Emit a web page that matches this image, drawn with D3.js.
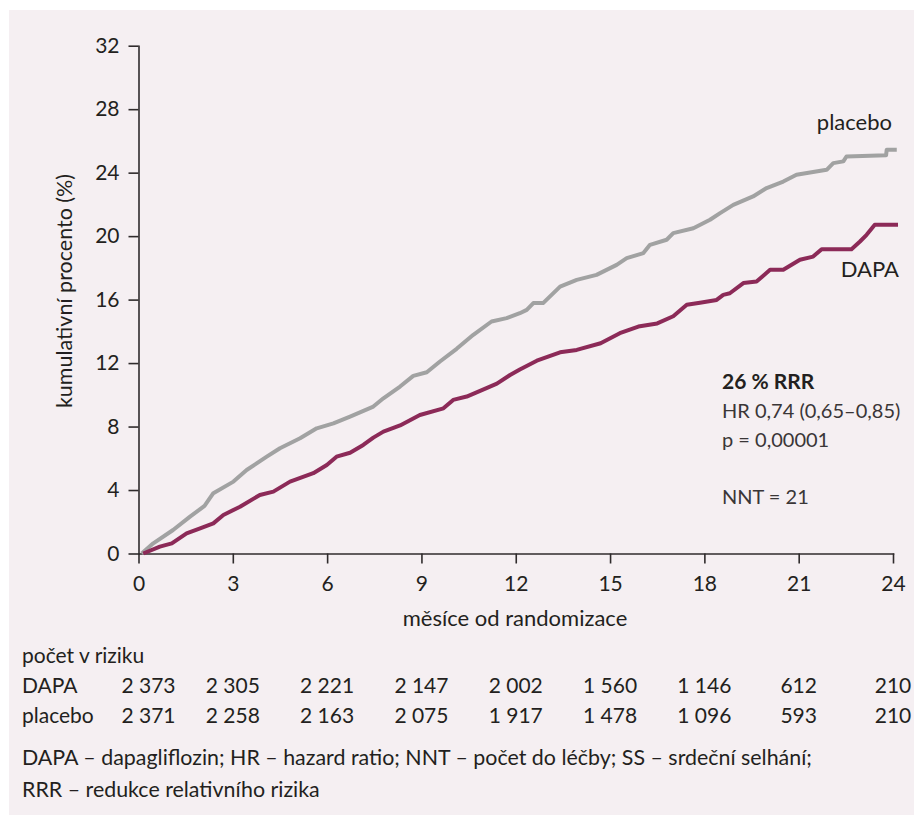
<!DOCTYPE html>
<meta charset="utf-8">
<head>
  <style>
    body { margin: 0; background: #fff; }
    svg text { font-family: Lato, "Open Sans", sans-serif; fill: #231f20; }
    .axis text { font-size: 21px; }
    .axis path, .axis line { stroke: #2f2b2c; stroke-width: 1.6px; }
  </style>
</head>
<body>
  <div class="chart"></div>
  <script src="https://d3js.org/d3.v7.min.js"></script>
  <script>
    // values: [month, cumulative %]
    var placebo = [[0.1,0],[0.47,0.64],[1.1,1.48],[1.64,2.32],[2.1,3.0],[2.38,3.8],[3.02,4.53],[3.44,5.26],
      [4.08,6.1],[4.5,6.63],[5.14,7.26],[5.67,7.89],[6.2,8.2],[6.73,8.63],[7.47,9.26],[7.79,9.78],
      [8.32,10.52],[8.74,11.19],[9.17,11.42],[9.59,12.1],[10.12,12.9],[10.65,13.78],[11.23,14.62],
      [11.71,14.83],[12.13,15.14],[12.35,15.35],[12.56,15.78],[12.87,15.78],[13.41,16.82],[13.94,17.24],
      [14.57,17.56],[15.21,18.19],[15.53,18.61],[16.06,18.93],[16.27,19.45],[16.8,19.77],[17.01,20.19],
      [17.65,20.5],[18.18,21.03],[18.5,21.45],[18.92,21.97],[19.55,22.5],[19.98,23.03],[20.51,23.44],
      [20.93,23.87],[21.89,24.18],[22.1,24.6],[22.42,24.71],[22.52,25.02],[23.78,25.1],[23.8,25.44],[24.12,25.44]];
    var dapa = [[0.15,0],[0.68,0.43],[1.06,0.64],[1.53,1.27],[1.96,1.59],[2.38,1.9],[2.7,2.43],[3.23,2.95],
      [3.86,3.69],[4.29,3.9],[4.82,4.53],[5.56,5.06],[5.99,5.58],[6.3,6.1],[6.73,6.35],[7.15,6.84],
      [7.47,7.3],[7.79,7.68],[8.32,8.07],[8.95,8.73],[9.7,9.15],[10.01,9.68],[10.44,9.89],[11.07,10.42],
      [11.4,10.7],[11.82,11.25],[12.13,11.6],[12.67,12.15],[13.41,12.68],[13.94,12.83],[14.7,13.25],
      [15.31,13.88],[15.9,14.3],[16.5,14.5],[17.01,14.95],[17.44,15.67],[17.86,15.8],[18.39,15.98],
      [18.6,16.3],[18.81,16.4],[19.24,17.04],[19.66,17.14],[20.09,17.88],[20.51,17.88],[21.04,18.51],
      [21.46,18.71],[21.73,19.18],[22.68,19.18],[22.95,19.66],[23.16,20.08],[23.42,20.71],[24.16,20.71]];

    var xTicks = [0, 3, 6, 9, 12, 15, 18, 21, 24];
    var yTicks = [0, 4, 8, 12, 16, 20, 24, 28, 32];
    var riskDapa = ["2 373", "2 305", "2 221", "2 147", "2 002", "1 560", "1 146", "612", "210"];
    var riskPlacebo = ["2 371", "2 258", "2 163", "2 075", "1 917", "1 478", "1 096", "593", "210"];
    var stats = ["HR 0,74 (0,65–0,85)", "p = 0,00001"];
    var notes = ["DAPA – dapagliflozin; HR – hazard ratio; NNT – počet do léčby; SS – srdeční selhání;",
                 "RRR – redukce relativního rizika"];

    var W = 914, H = 825;
    var svg = d3.select(".chart").append("svg")
        .attr("width", W)
        .attr("height", H);

    svg.append("rect")
        .attr("x", 9).attr("y", 10)
        .attr("width", W - 9).attr("height", 805)
        .attr("fill", "#f5eff2");

    var x = d3.scaleLinear().domain([0, 24]).range([138.5, 893]);
    var y = d3.scaleLinear().domain([0, 32]).range([553.5, 45.7]);

    svg.append("g")
        .attr("class", "axis")
        .attr("transform", "translate(0," + y(0) + ")")
        .call(d3.axisBottom(x).tickValues(xTicks).tickSize(10).tickSizeOuter(0).tickPadding(13));

    svg.append("g")
        .attr("class", "axis")
        .attr("transform", "translate(" + x(0) + ",0)")
        .call(d3.axisLeft(y).tickValues(yTicks).tickSize(10).tickSizeOuter(0).tickPadding(9));

    svg.selectAll(".axis .domain").attr("stroke-linecap", "square");

    // axis titles
    svg.append("text")
        .attr("transform", "translate(72,291) rotate(-90)")
        .attr("text-anchor", "middle")
        .style("font-size", "21.5px")
        .text("kumulativní procento (%)");

    svg.append("text")
        .attr("x", 515).attr("y", 626)
        .attr("text-anchor", "middle")
        .style("font-size", "22px")
        .text("měsíce od randomizace");

    var line = d3.line()
        .x(function(d) { return x(d[0]); })
        .y(function(d) { return y(d[1]); });

    svg.append("path")
        .datum(placebo)
        .attr("d", line)
        .attr("fill", "none")
        .attr("stroke", "#a1a2a2")
        .attr("stroke-width", 4)
        .attr("stroke-linejoin", "round");

    svg.append("path")
        .datum(dapa)
        .attr("d", line)
        .attr("fill", "none")
        .attr("stroke", "#8c2a58")
        .attr("stroke-width", 4)
        .attr("stroke-linejoin", "round");

    // series labels
    svg.append("text")
        .attr("x", 892).attr("y", 130)
        .attr("text-anchor", "end")
        .style("font-size", "22px")
        .text("placebo");
    svg.append("text")
        .attr("x", 899).attr("y", 277)
        .attr("text-anchor", "end")
        .style("font-size", "22px")
        .text("DAPA");

    // stats box
    svg.append("text")
        .attr("x", 722).attr("y", 389)
        .style("font-size", "21px")
        .style("font-weight", "bold")
        .text("26 % RRR");
    svg.selectAll(".stat")
        .data(stats)
        .enter().append("text")
        .attr("class", "stat")
        .attr("x", 722)
        .attr("y", function(d, i) { return 418 + i * 29; })
        .style("font-size", "20px")
        .style("fill", "#3a3637")
        .text(function(d) { return d; });
    svg.append("text")
        .attr("x", 722).attr("y", 504)
        .style("font-size", "20px")
        .style("fill", "#3a3637")
        .text("NNT = 21");

    // number at risk
    svg.append("text")
        .attr("x", 22).attr("y", 663)
        .style("font-size", "21px")
        .text("počet v riziku");

    var rows = [["DAPA", riskDapa], ["placebo", riskPlacebo]];
    rows.forEach(function(r, i) {
      var yy = 693 + i * 30;
      svg.append("text")
          .attr("x", 22).attr("y", yy)
          .style("font-size", "21px")
          .text(r[0]);
      svg.selectAll(".risk" + i)
          .data(r[1])
          .enter().append("text")
          .attr("class", "risk" + i)
          .attr("x", function(d, j) { return x(xTicks[j]) + (j === 0 ? 10 : 0); })
          .attr("y", yy)
          .attr("text-anchor", "middle")
          .style("font-size", "21px")
          .text(function(d) { return d; });
    });

    // footnote
    svg.selectAll(".note")
        .data(notes)
        .enter().append("text")
        .attr("class", "note")
        .attr("x", 22)
        .attr("y", function(d, i) { return 765 + i * 32; })
        .style("font-size", "21.4px")
        .text(function(d) { return d; });
  </script>
</body>
